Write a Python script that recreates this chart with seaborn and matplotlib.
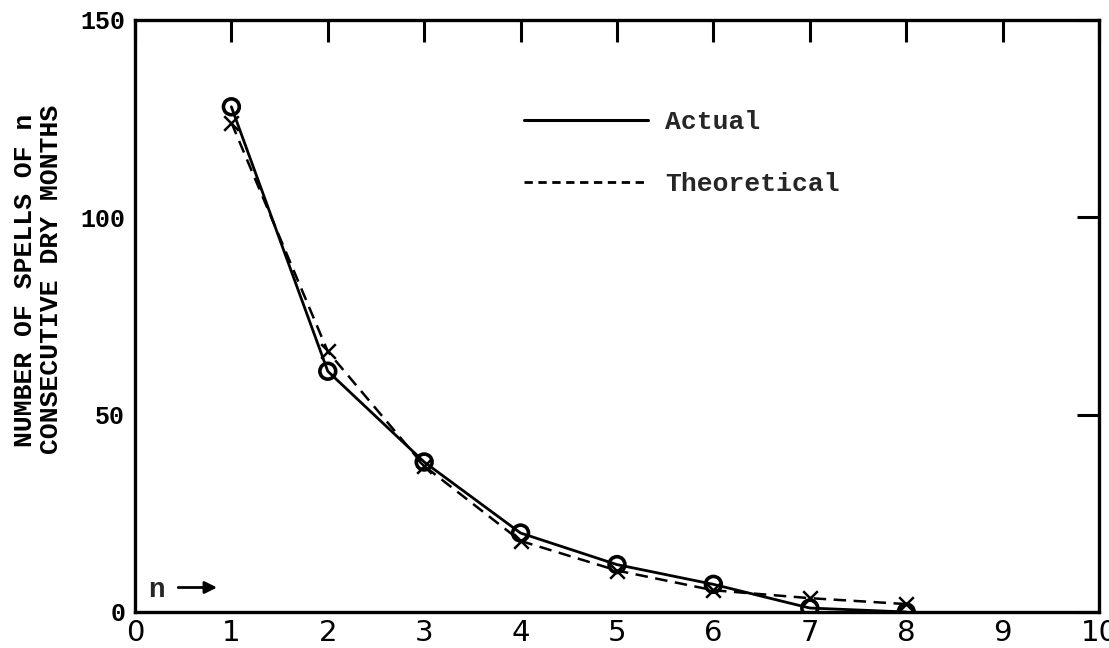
import matplotlib
matplotlib.use("Agg")
import matplotlib.pyplot as plt
import seaborn as sns
import pandas as pd
from matplotlib.lines import Line2D

n_values = [1, 2, 3, 4, 5, 6, 7, 8]
actual = [128, 61, 38, 20, 12, 7, 1, 0]
theoretical = [124, 66, 37, 18, 10.5, 5.5, 3.5, 2]
x_ticks = [0, 1, 2, 3, 4, 5, 6, 7, 8, 9, 10]
y_ticks = [0, 50, 100, 150]
legend_labels = ["Actual", "Theoretical"]
y_label = "NUMBER OF SPELLS OF n\nCONSECUTIVE DRY MONTHS"

df = pd.DataFrame({"n": n_values, "Actual": actual, "Theoretical": theoretical})

sns.set_theme(style="white")
plt.rcParams["font.family"] = ["Liberation Mono", "DejaVu Sans"]

fig = plt.figure(figsize=(11.09, 6.48), dpi=100)
ax = fig.add_axes([0.1217, 0.0556, 0.8693, 0.9136])

sns.lineplot(data=df, x="n", y="Actual", ax=ax, color="black", lw=2.0)
sns.lineplot(data=df, x="n", y="Theoretical", ax=ax, color="black", lw=1.8,
             dashes=False, linestyle=(0, (5, 3)))
ax.scatter(df["n"], df["Actual"], marker="o", s=130, facecolors="none",
           edgecolors="black", linewidths=2.6, zorder=5)
ax.scatter(df["n"], df["Theoretical"], marker="x", s=110, color="black",
           linewidths=1.8, zorder=5)

ax.set_xlim(0, 10)
ax.set_ylim(0, 150)
ax.set_xticks(x_ticks)
ax.set_yticks(y_ticks)
ax.set_xticklabels([str(v) for v in x_ticks], fontfamily="DejaVu Sans", fontsize=21)
ax.set_yticklabels([str(v) for v in y_ticks], fontweight="bold", fontsize=18)
ax.tick_params(axis="both", direction="in", length=16, width=2.2, color="black",
               top=True, right=True, labelcolor="black")
ax.tick_params(axis="x", pad=5)
ax.tick_params(axis="y", pad=7)

for s in ax.spines.values():
    s.set_color("black")
    s.set_linewidth(2.4)

ax.set_xlabel("")
ax.set_ylabel(y_label, fontsize=19, fontweight="bold", linespacing=1.15,
              color="black", va="center", ha="center")
ax.yaxis.set_label_coords(-0.1006, 0.561)

ax.text(0.135, 5.6, "n", fontsize=20, fontweight="bold", va="center", ha="left")
ax.annotate("", xy=(0.88, 6.2), xytext=(0.42, 6.2),
            arrowprops=dict(arrowstyle="-|>", color="black", lw=2, mutation_scale=18))

handles = [Line2D([], [], color="black", lw=2.2),
           Line2D([], [], color="black", lw=2.0, linestyle=(0, (3, 2)))]
leg = ax.legend(handles, legend_labels, loc="upper left",
                bbox_to_anchor=(0.4035, 0.848), frameon=False,
                prop={"family": "Liberation Mono", "weight": "bold", "size": 19},
                handlelength=4.7, handletextpad=0.65, labelspacing=1.45,
                borderpad=0, borderaxespad=0)

fig.savefig("out.png", dpi=100, facecolor="white")
